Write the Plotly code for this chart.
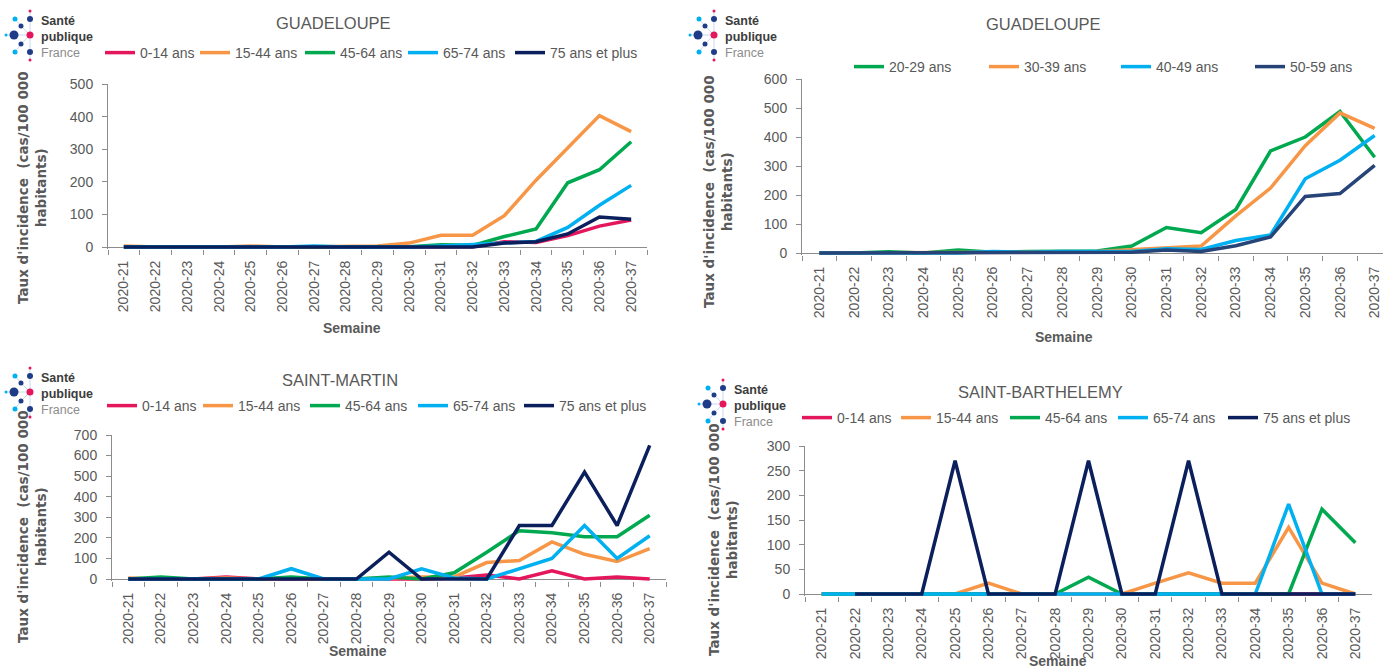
import plotly.graph_objects as go

# ---------------- data ----------------
weeks = ["2020-21", "2020-22", "2020-23", "2020-24", "2020-25", "2020-26", "2020-27",
         "2020-28", "2020-29", "2020-30", "2020-31", "2020-32", "2020-33", "2020-34",
         "2020-35", "2020-36", "2020-37"]

# Guadeloupe, by broad age group
gua_0_14 = [0, 0, 0, 0, 0, 0, 0, 0, 0, 0, 1, 1, 16, 14, 35, 64, 83]
gua_15_44 = [3, 0, 0, 0, 3, 0, 1, 2, 3, 12, 36, 36, 96, 205, 305, 403, 354]
gua_45_64 = [0, 0, 0, 0, 0, 0, 0, 0, 0, 1, 7, 5, 32, 55, 197, 237, 323]
gua_65_74 = [0, 0, 0, 0, 0, 0, 3, 0, 0, 0, 3, 8, 14, 17, 60, 128, 189]
gua_75p = [0, 0, 0, 0, 0, 0, 0, 0, 0, 0, 0, 0, 12, 16, 40, 92, 85]

# Guadeloupe, by decade
gua_20_29 = [0, 0, 4, 0, 10, 3, 5, 5, 7, 24, 88, 70, 150, 352, 400, 488, 330]
gua_30_39 = [0, 0, 0, 0, 0, 0, 0, 3, 5, 12, 16, 24, 128, 224, 370, 483, 430]
gua_40_49 = [0, 0, 0, 0, 0, 5, 3, 5, 5, 5, 15, 12, 43, 62, 256, 320, 405]
gua_50_59 = [0, 0, 0, 0, 0, 0, 0, 0, 0, 3, 10, 5, 25, 55, 195, 205, 302]

# Saint-Martin
sm_0_14 = [0, 0, 0, 10, 0, 0, 0, 0, 0, 0, 5, 20, 0, 40, 0, 10, 0]
sm_15_44 = [5, 0, 0, 5, 0, 5, 0, 0, 5, 10, 10, 80, 90, 180, 120, 85, 148]
sm_45_64 = [0, 10, 0, 0, 0, 10, 0, 0, 10, 0, 30, 130, 235, 225, 205, 205, 310]
sm_65_74 = [0, 0, 0, 0, 0, 50, 0, 0, 0, 50, 5, 0, 50, 100, 260, 100, 210]
sm_75p = [0, 0, 0, 0, 0, 0, 0, 0, 130, 0, 0, 0, 260, 260, 520, 260, 650]

# Saint-Barthelemy
sb_0_14 = [0, 0, 0, 0, 0, 0, 0, 0, 0, 0, 0, 0, 0, 0, 0, 0, 0]
sb_15_44 = [0, 0, 0, 0, 0, 22, 0, 0, 0, 0, 22, 43, 22, 22, 135, 22, 0]
sb_45_64 = [0, 0, 0, 0, 0, 0, 0, 0, 34, 0, 0, 0, 0, 0, 0, 172, 104]
sb_65_74 = [0, 0, 0, 0, 0, 0, 0, 0, 0, 0, 0, 0, 0, 0, 182, 0, 0]
sb_75p = [None, 0, 0, 0, 270, 0, 0, 0, 270, 0, 0, 270, 0, 0, 0, 0, 0]

labels5 = ["0-14 ans", "15-44 ans", "45-64 ans", "65-74 ans", "75 ans et plus"]
labels4 = ["20-29 ans", "30-39 ans", "40-49 ans", "50-59 ans"]
titles = ["GUADELOUPE", "GUADELOUPE", "SAINT-MARTIN", "SAINT-BARTHELEMY"]

# ---------------- style ----------------
W, H = 1383, 669
PINK, ORANGE, GREEN, CYAN, NAVY, NAVY2 = "#E5175C", "#F79646", "#00A94F", "#00B0F0", "#0B1F5C", "#264478"
TXT = "#595959"
AX = "#8C8C8C"
F = "Liberation Sans, Arial, sans-serif"
FB = "DejaVu Sans, Verdana, sans-serif"


def px(x):
    return x / W


def py(y):
    return 1 - y / H


panels = [
    dict(series=[gua_0_14, gua_15_44, gua_45_64, gua_65_74, gua_75p], labels=labels5,
         colors=[PINK, ORANGE, GREEN, CYAN, NAVY], x0=108, x1=647, rng=[-0.5, 16.5],
         ytop=84, ybot=247, ymax=500, dtick=100, leg=(100, 53), lw=[50, 60, 58, 62, 100],
         title=(333, 23), ytitle=(32, 188), semaine=(352, 328), logo=(0, 0)),
    dict(series=[gua_20_29, gua_30_39, gua_40_49, gua_50_59], labels=labels4,
         colors=[GREEN, ORANGE, CYAN, NAVY2], x0=802, x1=1383, rng=[-0.5, 16.24],
         ytop=79, ybot=253, ymax=600, dtick=100, leg=(849, 67), lw=[90, 87, 89, 70],
         title=(1043, 24), ytitle=(718, 192), semaine=(1064, 337), logo=(684, 0)),
    dict(series=[sm_0_14, sm_15_44, sm_45_64, sm_65_74, sm_75p], labels=labels5,
         colors=[PINK, ORANGE, GREEN, CYAN, NAVY], x0=112, x1=666, rng=[-0.5, 16.5],
         ytop=435, ybot=579, ymax=700, dtick=100, leg=(102, 406), lw=[51, 62, 63, 61, 100],
         title=(340, 380), ytitle=(32, 527), semaine=(358, 651), logo=(0, 357)),
    dict(series=[sb_0_14, sb_15_44, sb_45_64, sb_65_74, sb_75p], labels=labels5,
         colors=[PINK, ORANGE, GREEN, CYAN, NAVY], x0=805, x1=1372, rng=[-0.5, 16.5],
         ytop=446, ybot=594, ymax=300, dtick=50, leg=(797, 418), lw=[54, 64, 63, 65, 100],
         title=(1040, 392), ytitle=(723, 540), semaine=(1058, 661), logo=(693, 369)),
]

fig = go.Figure()
layout = dict(width=W, height=H, autosize=False, margin=dict(l=0, r=0, t=0, b=0, pad=0),
              paper_bgcolor="white", plot_bgcolor="white", showlegend=True)
annotations = []
shapes = []

for i, p in enumerate(panels):
    n = "" if i == 0 else str(i + 1)
    xa, ya, lg = "x" + n, "y" + n, "legend" + n
    for vals, lab, col, lw in zip(p["series"], p["labels"], p["colors"], p["lw"]):
        fig.add_trace(go.Scatter(x=weeks, y=vals, mode="lines", name=lab,
                                 line=dict(color=col, width=3.5), connectgaps=False,
                                 xaxis=xa, yaxis=ya, legend=lg, legendwidth=lw,
                                 hoverinfo="x+y+name"))
    ppu = (p["ybot"] - p["ytop"]) / p["ymax"]
    r = 2 / ppu
    layout["xaxis" + n] = dict(domain=[px(p["x0"]), px(p["x1"])], anchor=ya, type="category",
                               categoryorder="array", categoryarray=weeks, range=p["rng"],
                               showline=False, showgrid=False, zeroline=False, automargin=False,
                               ticks="outside", ticklen=5, tickcolor=AX, tickwidth=1,
                               tickson="boundaries", tickangle=-90, ticklabelstandoff=8,
                               tickfont=dict(family=F, size=14, color=TXT), fixedrange=True)
    layout["yaxis" + n] = dict(domain=[py(p["ybot"] + 2), py(p["ytop"])], anchor=xa,
                               range=[-r, p["ymax"]], tick0=0, dtick=p["dtick"], automargin=False,
                               showline=True, linecolor=AX, linewidth=1, showgrid=False,
                               zeroline=True, zerolinecolor=AX, zerolinewidth=1,
                               ticks="outside", ticklen=5, tickcolor=AX, ticklabelstandoff=6,
                               tickfont=dict(family=F, size=14, color=TXT), fixedrange=True)
    layout[lg] = dict(x=px(p["leg"][0]), y=py(p["leg"][1]), xanchor="left", yanchor="middle",
                      orientation="h", bgcolor="rgba(0,0,0,0)", borderwidth=0,
                      font=dict(family=F, size=14, color=TXT), itemwidth=30,
                      traceorder="normal")
    # title
    annotations.append(dict(text=titles[i], x=px(p["title"][0]), y=py(p["title"][1]),
                            xref="paper", yref="paper", showarrow=False,
                            xanchor="center", yanchor="middle",
                            font=dict(family=F, size=16.5, color=TXT)))
    # y axis title
    annotations.append(dict(text="<b>Taux d'incidence  (cas/100 000<br>habitants)</b>",
                            x=px(p["ytitle"][0]), y=py(p["ytitle"][1]), xref="paper",
                            yref="paper", showarrow=False, textangle=-90,
                            xanchor="center", yanchor="middle",
                            font=dict(family=FB, size=13.5, color=TXT)))
    # x axis title
    annotations.append(dict(text="<b>Semaine</b>", x=px(p["semaine"][0]), y=py(p["semaine"][1]),
                            xref="paper", yref="paper", showarrow=False,
                            xanchor="center", yanchor="middle",
                            font=dict(family=F, size=14, color=TXT)))
    # logo
    ox, oy = p["logo"]
    for (a, b) in [((30, 35), (14, 35)), ((14, 35), (6, 35)), ((30, 35), (21, 26)),
                   ((30, 35), (21, 44)), ((30, 35), (30, 19)), ((30, 35), (30, 52)),
                   ((30, 19), (30, 11)), ((30, 52), (30, 60)), ((21, 26), (15, 19)),
                   ((21, 44), (15, 52))]:
        shapes.append(dict(type="line", xref="paper", yref="paper",
                           x0=px(ox + a[0]), y0=py(oy + a[1]), x1=px(ox + b[0]), y1=py(oy + b[1]),
                           line=dict(color="#B9CFEA", width=0.8)))
    for (cx, cy, rr, col) in [(30, 11, 1.5, PINK), (15, 19, 2.5, CYAN), (30, 19, 3, "#1F3C88"),
                              (21, 26, 2.5, "#1F3C88"), (6, 35, 1.5, CYAN), (14, 35, 4.5, "#1F3C88"),
                              (30, 35, 3.5, PINK), (21, 44, 2.5, "#1F3C88"), (15, 52, 2.5, CYAN),
                              (30, 52, 3, "#1F3C88"), (30, 60, 1.5, PINK)]:
        shapes.append(dict(type="circle", xref="paper", yref="paper",
                           x0=px(ox + cx - rr), x1=px(ox + cx + rr),
                           y0=py(oy + cy + rr), y1=py(oy + cy - rr),
                           fillcolor=col, line=dict(width=0)))
    for txt, ty, bold, col in [("Santé", 21, True, "#3C3C3C"), ("publique", 37, True, "#3C3C3C"),
                               ("France", 53, False, "#8C8C8C")]:
        annotations.append(dict(text=("<b>%s</b>" % txt) if bold else txt,
                                x=px(ox + 39), y=py(oy + ty), xref="paper", yref="paper",
                                showarrow=False, xanchor="left", yanchor="middle",
                                font=dict(family=F, size=12.5, color=col)))

layout["annotations"] = annotations
layout["shapes"] = shapes
fig.update_layout(**layout)
fig.write_html("out.html", config={"displayModeBar": False},
               post_script="document.body.style.margin='0px';document.body.style.overflow='hidden';")
